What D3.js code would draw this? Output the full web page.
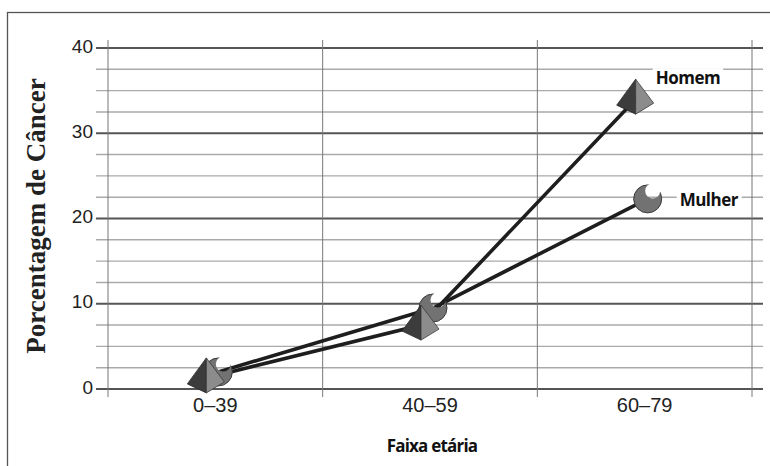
<!DOCTYPE html>
<html>
<head>
<meta charset="utf-8">
<script src="https://cdn.jsdelivr.net/npm/d3@7"></script>
<style>
  html, body { margin: 0; padding: 0; background: #fff; }
  svg { display: block; }
</style>
</head>
<body>
<svg id="chart" width="770" height="466"></svg>
<script>
// Age groups on the x axis
const categories = ["0–39", "40–59", "60–79"];
// Cancer percentage per age group
const homemValues = [1.3, 7.5, 34];
const mulherValues = [2.0, 9.5, 22.3];
// Y axis labelled ticks and grid step
const yTicks = [0, 10, 20, 30, 40];
const yMinorStep = 2.5;

const svg = d3.select("#chart");

// outer frame
svg.append("rect")
  .attr("x", 7.5).attr("y", 12.5)
  .attr("width", 800).attr("height", 500)
  .attr("fill", "none").attr("stroke", "#555").attr("stroke-width", 1.3);

const x = d3.scaleBand().domain(categories).range([108, 752]).padding(0);
const y = d3.scaleLinear().domain([0, 40]).range([389, 48]);

const grid = svg.append("g");

// horizontal grid: minor every 2.5, major on labelled ticks
const allLevels = d3.range(0, 40 + 0.001, yMinorStep);
grid.selectAll("line.h")
  .data(allLevels)
  .join("line")
  .attr("x1", 96).attr("x2", 763)
  .attr("y1", d => y(d)).attr("y2", d => y(d))
  .attr("stroke", d => yTicks.includes(d) ? "#555" : "#aaa")
  .attr("stroke-width", d => yTicks.includes(d) ? 1.8 : 1.4);

// vertical band separators
const bounds = categories.map(c => x(c)).concat([x(categories[2]) + x.bandwidth()]);
grid.selectAll("line.v")
  .data(bounds)
  .join("line")
  .attr("x1", d => d).attr("x2", d => d)
  .attr("y1", 40).attr("y2", 397)
  .attr("stroke", "#777").attr("stroke-width", 1);

// y tick labels
const yAxis = d3.axisLeft(y).tickValues(yTicks).tickSize(0).tickPadding(0);
const yg = svg.append("g").attr("transform", "translate(93,-2)").call(yAxis);
yg.select(".domain").remove();
yg.selectAll("text")
  .attr("font-family", "Liberation Sans, Arial, sans-serif")
  .attr("font-size", 19).attr("fill", "#222");

// x tick labels
const xAxis = d3.axisBottom(x).tickSize(0).tickPadding(0);
const xg = svg.append("g").attr("transform", "translate(0,398)").call(xAxis);
xg.select(".domain").remove();
xg.selectAll("text")
  .attr("font-family", "Liberation Sans, Arial, sans-serif")
  .attr("font-size", 20).attr("fill", "#222");

// axis titles
svg.append("text")
  .attr("transform", "translate(45,216) rotate(-90)")
  .attr("text-anchor", "middle")
  .attr("font-family", "Liberation Serif, Times New Roman, serif")
  .attr("font-weight", "bold").attr("font-size", 27).attr("fill", "#222")
  .text("Porcentagem de Câncer");

svg.append("text")
  .attr("x", 432).attr("y", 452)
  .attr("text-anchor", "middle")
  .attr("font-family", "Open Sans, sans-serif")
  .attr("font-weight", "bold").attr("font-size", 17).attr("fill", "#111")
  .attr("letter-spacing", -0.8)
  .text("Faixa etária");

const series = [
  { name: "Homem", values: homemValues, dodge: -9, shape: "pyramid" },
  { name: "Mulher", values: mulherValues, dodge: 3, shape: "crescent" }
];

const px = (s, i) => x(categories[i]) + x.bandwidth() / 2 + s.dodge;
const py = (s, i) => y(s.values[i]);

// connecting lines
const line = d3.line().x(d => d[0]).y(d => d[1]);
svg.append("g").selectAll("path")
  .data(series)
  .join("path")
  .attr("d", s => line(s.values.map((v, i) => [px(s, i), py(s, i)])))
  .attr("fill", "none").attr("stroke", "#1e1e1e").attr("stroke-width", 3.6)
  .attr("stroke-linecap", "round");

// crescent mask
const defs = svg.append("defs");
const mask = defs.append("mask").attr("id", "bite")
  .attr("maskContentUnits", "userSpaceOnUse");
mask.append("rect").attr("x", -30).attr("y", -30).attr("width", 60).attr("height", 60).attr("fill", "#fff");
mask.append("circle").attr("cx", 5).attr("cy", -8).attr("r", 7.5).attr("fill", "#000");

// markers: crescents first so the pyramids sit in front
const markers = svg.append("g");
series.slice().reverse().forEach(s => {
  s.values.forEach((v, i) => {
    const g = markers.append("g")
      .attr("transform", `translate(${px(s, i)},${py(s, i)})`);
    if (s.shape === "pyramid") {
      g.append("path").attr("d", "M0,-20 L-19,6 L0,15 Z")
        .attr("fill", "#3c3c3c").attr("stroke", "#2a2a2a").attr("stroke-width", 0.8);
      g.append("path").attr("d", "M0,-20 L18,4 L0,15 Z")
        .attr("fill", "#8c8c8c").attr("stroke", "#3a3a3a").attr("stroke-width", 0.8);
    } else {
      const inner = g.append("g").attr("mask", "url(#bite)");
      inner.append("circle").attr("r", 14)
        .attr("fill", "#727272").attr("stroke", "#3a3a3a").attr("stroke-width", 1);
    }
  });
});

// series labels beside the last point
const last = categories.length - 1;
const labelOffsets = { Homem: [20, -15], Mulher: [32, 7] };
series.forEach(s => {
  const lx = px(s, last) + labelOffsets[s.name][0];
  const ly = py(s, last) + labelOffsets[s.name][1];
  const t = svg.append("text")
    .attr("x", lx).attr("y", ly)
    .attr("font-family", "Open Sans, sans-serif")
    .attr("font-weight", "bold").attr("font-size", 17).attr("fill", "#111")
    .attr("letter-spacing", -0.5)
    .text(s.name);
  const bb = t.node().getBBox();
  svg.insert("rect", () => t.node())
    .attr("x", bb.x - 3).attr("y", bb.y + 2)
    .attr("width", bb.width + 6).attr("height", bb.height - 4)
    .attr("fill", "#fff");
});
</script>
</body>
</html>
